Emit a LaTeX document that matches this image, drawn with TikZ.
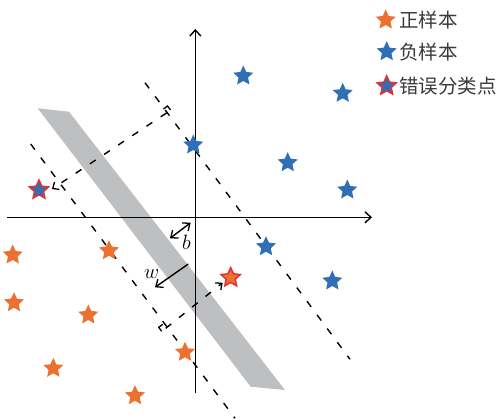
\documentclass[tikz,border=0pt]{standalone}
\usepackage{fontspec}
\usepackage{tikz}
\usetikzlibrary{shapes.geometric, arrows.meta, positioning}
\newfontfamily\cjk{Noto Sans CJK SC}
\definecolor{posc}{HTML}{EC7130}
\definecolor{negc}{HTML}{2F6FB8}
\definecolor{errc}{HTML}{E2322E}
\definecolor{bandc}{HTML}{BEBFC1}
\definecolor{txtc}{HTML}{3A3A3A}

\begin{document}
\begin{tikzpicture}[
  x=1pt, y=-1pt,
  pstar/.style={star, star points=5, star point ratio=2.1, minimum size=21pt,
                inner sep=0pt, fill=posc},
  nstar/.style={pstar, fill=negc},
  bad/.style={draw=errc, line width=1.5pt, minimum size=20pt},
  axis/.style={line width=1.5pt, -{Straight Barb[length=6pt, width=11pt, line width=1.4pt]}},
  margin/.style={line width=1.4pt, dash pattern=on 7pt off 10pt},
  perp/.style={margin, -{Straight Barb[length=5pt, width=9pt, line width=1.3pt]}},
  vec/.style={line width=1.4pt, -{Straight Barb[length=6pt, width=10pt, line width=1.3pt]}},
  lbl/.style={font=\fontsize{20}{22}\selectfont},
  leg/.style={font=\cjk\fontsize{19.5}{22}\selectfont, text=txtc, inner sep=0pt, anchor=west}
]
  \useasboundingbox (0,0) rectangle (501,420);

  % separating band
  \fill[bandc] (37.7,108.3) -- (69,111.7) -- (285,390) -- (250.7,386.7) -- cycle;

  % axes
  \coordinate (xl) at (7,217.3);
  \coordinate (xr) at (372,217.3);
  \coordinate (yb) at (195.3,393);
  \coordinate (yt) at (195.3,29);
  \draw[axis] (xl) -- (xr);
  \draw[axis] (yb) -- (yt);

  % margins
  \coordinate (rm1) at (145,82.7);
  \coordinate (rm2) at (350,359.3);
  \coordinate (lm1) at (30.7,144);
  \coordinate (lm2) at (235,418.3);
  \draw[margin] (rm1) -- (rm2);
  \draw[margin] (lm1) -- (lm2);

  % slack distances
  \coordinate (f1) at (166.5,113);
  \coordinate (t1) at (52,189);
  \coordinate (f2) at (165.7,328.3);
  \coordinate (t2) at (222.7,282.7);
  \draw[perp] (f1) -- (t1);
  \draw[perp] (f2) -- (t2);
  \draw[line width=1.3pt] (163.5,109) -- (167.5,106) -- (170.5,110);
  \draw[line width=1.3pt] (162.7,324.3) -- (158.7,327.3) -- (161.7,331.3);

  % b and w
  \coordinate (b1) at (170,238.3);
  \coordinate (b2) at (190.7,222.7);
  \draw[line width=1.4pt, {Straight Barb[length=6pt, width=10pt, line width=1.3pt]}-{Straight Barb[length=6pt, width=10pt, line width=1.3pt]}] (b1) -- (b2);
  \node[lbl] (blab) at (186.5,242.5) {$b$};
  \coordinate (w1) at (188.3,264);
  \coordinate (w2) at (155,287.3);
  \draw[vec] (w1) -- (w2);
  \node[lbl] (wlab) at (151.7,274) {$w$};

  % positive samples
  \node[pstar] (p1) at (12.7,255) {};
  \node[pstar] (p2) at (109,250.7) {};
  \node[pstar] (p3) at (14,302.7) {};
  \node[pstar] (p4) at (88.3,315) {};
  \node[pstar] (p5) at (185,352.3) {};
  \node[pstar] (p6) at (53.3,368.3) {};
  \node[pstar] (p7) at (135,395.7) {};

  % negative samples
  \node[nstar] (n1) at (243.3,76) {};
  \node[nstar] (n2) at (342.7,93.3) {};
  \node[nstar] (n3) at (193.3,145) {};
  \node[nstar] (n4) at (287.7,162.7) {};
  \node[nstar] (n5) at (347.3,190) {};
  \node[nstar] (n6) at (266,246.7) {};
  \node[nstar] (n7) at (332.3,281) {};

  % misclassified
  \node[nstar, bad] (e1) at (39,190) {};
  \node[pstar, bad] (e2) at (230.7,277.7) {};

  % legend
  \node[pstar] (lp) at (385.7,20) {};
  \node[nstar] (ln) at (386.7,51.7) {};
  \node[nstar, bad] (le) at (386.7,86) {};
  \node[leg] (lpt) at (399,20) {正样本};
  \node[leg] (lnt) at (399,51.7) {负样本};
  \node[leg] (let) at (399,86) {错误分类点};
\end{tikzpicture}
\end{document}
